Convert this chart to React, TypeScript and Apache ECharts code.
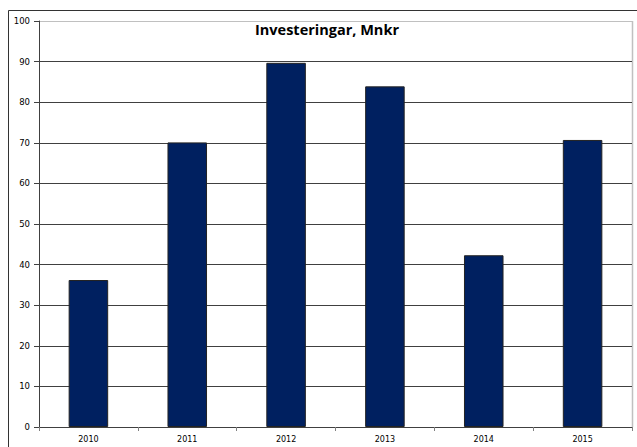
import React, { useEffect, useRef } from "react";
import * as echarts from "echarts";

const categories = ["2010", "2011", "2012", "2013", "2014", "2015"];
const values = [36.2, 70.1, 89.7, 83.9, 42.3, 70.7];
const titleText = "Investeringar, Mnkr";

export default function App() {
  const ref = useRef<HTMLDivElement>(null);
  useEffect(() => {
    const chart = echarts.init(ref.current!, null, { renderer: "svg" });
    chart.setOption({
      animation: false,
      backgroundColor: "#ffffff",
      title: {
        text: titleText,
        left: 255,
        top: 22,
        padding: 0,
        textStyle: {
          fontFamily: "Open Sans",
          fontWeight: "bold",
          fontSize: 14.5,
          color: "#000000",
        },
      },
      graphic: [
        {
          type: "rect",
          shape: { x: 8.5, y: 10.5, width: 640, height: 450 },
          style: { fill: "none", stroke: "#333333", lineWidth: 1 },
          silent: true,
        },
        {
          type: "line",
          shape: { x1: 632.5, y1: 21, x2: 632.5, y2: 427 },
          style: { stroke: "#c0c0c0", lineWidth: 1.5 },
          silent: true,
        },
      ],
      grid: { left: 39, right: 5, top: 21, bottom: 20 },
      xAxis: {
        type: "category",
        data: categories,
        axisLine: { lineStyle: { color: "#404040", width: 1 } },
        axisTick: { show: true, alignWithLabel: false, length: 4, lineStyle: { color: "#808080" } },
        axisLabel: { fontFamily: "DejaVu Sans", fontSize: 8, color: "#000000", margin: 8 },
      },
      yAxis: {
        type: "value",
        min: 0,
        max: 100,
        interval: 10,
        axisLine: { show: true, lineStyle: { color: "#404040", width: 1 } },
        axisTick: { show: true, length: 5, lineStyle: { color: "#404040" } },
        axisLabel: { fontFamily: "DejaVu Sans", fontSize: 8.5, color: "#000000", margin: 9 },
        splitLine: {
          lineStyle: {
            color: ["#404040", "#404040", "#404040", "#404040", "#404040", "#404040", "#404040", "#404040", "#404040", "#404040", "#c0c0c0"],
            width: 1,
          },
        },
      },
      series: [
        {
          type: "bar",
          data: values,
          barWidth: "40%",
          itemStyle: { color: "#002060", borderColor: "#222222", borderWidth: 1 },
        },
      ],
    });
    return () => chart.dispose();
  }, []);
  return (
    <div
      ref={ref}
      style={{ position: "fixed", left: 0, top: 0, width: 637, height: 447 }}
    />
  );
}
